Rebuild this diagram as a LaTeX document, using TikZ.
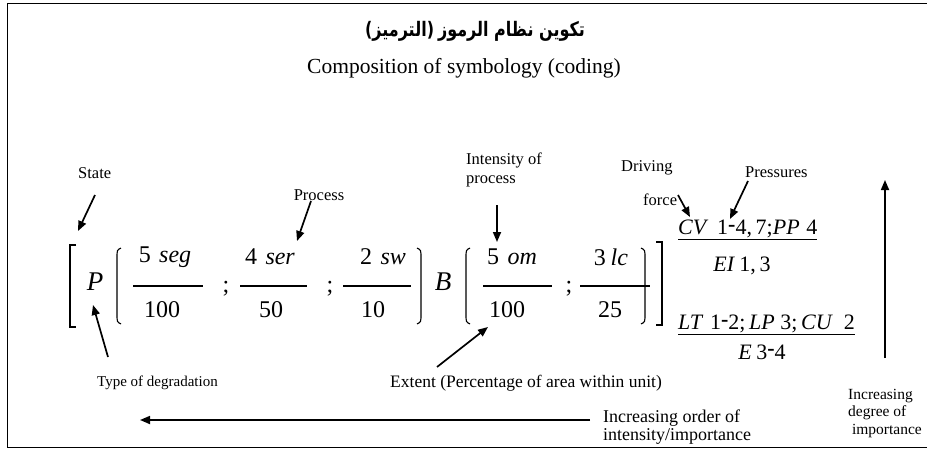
\documentclass[tikz,border=0pt]{standalone}
\usepackage{fontspec}
\setmainfont{Liberation Serif}
\newfontfamily\arabicfont[Script=Arabic]{DejaVu Sans}
\newfontfamily\plainsans{DejaVu Sans}
\TeXXeTstate=1
\usetikzlibrary{arrows.meta}
\newcommand{\mydash}{\raisebox{0.32ex}{\textbf{-}}}
\begin{document}
\begin{tikzpicture}[x=1pt,y=-1pt,
  lbl/.style={font=\fontsize{16.5}{18.5}\selectfont, inner sep=0pt},
  mth/.style={font=\fontsize{24}{26}\selectfont, inner sep=0pt},
  cod/.style={font=\fontsize{22}{24}\selectfont, inner sep=0pt},
  arr/.style={line width=1.7pt, -{Triangle[length=10pt,width=8pt]}},
  brk/.style={line width=1.1pt},
  frac/.style={line width=1.1pt}]
\useasboundingbox (0,0) rectangle (927,450);
% frame
\draw[line width=1pt] (927,3) -- (7,3) -- (7,447) -- (927,447);
% titles
\node[font=\bfseries\fontsize{20}{22}\selectfont, inner sep=0pt, xscale=0.8, transform shape] (ar) at (475,31) {{\plainsans(}{\arabicfont\beginR الترميز\endR}{\plainsans)} {\arabicfont\beginR تكوين نظام الرموز\endR}};
\node[font=\fontsize{21.5}{24}\selectfont, inner sep=0pt] (sub) at (464,68) {Composition of symbology (coding)};
% state
\node[lbl,anchor=west] (state) at (78,173) {State};
\coordinate (s1) at (95,195); \coordinate (s2) at (78,231);
\draw[arr] (s1) -- (s2);
% left bracket
\draw[brk] (76,245) -- (70,245) -- (70,327) -- (76,327);
\node[mth,font=\fontsize{27}{29}\selectfont\itshape] (P) at (95,282) {P};
\draw[brk] (121,248) .. controls (117,250) .. (117,258) -- (117,314) .. controls (117,322) .. (121,324);
% fraction 1
\node[mth] (n1) at (165,257) {5\hspace{0.35em}\textit{seg}};
\node[mth] (d1) at (162,310) {100};
\draw[frac] (133,286) -- (203,286);
\node[mth] (sc1) at (226,289) {;};
% fraction 2
\node[mth] (n2) at (270,257) {4\hspace{0.35em}\textit{ser}};
\node[mth] (d2) at (271,310) {50};
\draw[frac] (240,286) -- (307,286);
\node[mth] (sc2) at (330,289) {;};
% fraction 3
\node[mth] (n3) at (383,257) {2\hspace{0.35em}\textit{sw}};
\node[mth] (d3) at (373,310) {10};
\draw[frac] (343,286) -- (411,286);
\draw[brk] (417,248) .. controls (421,250) .. (421,258) -- (421,314) .. controls (421,322) .. (417,324);
% B
\node[mth,font=\fontsize{27}{29}\selectfont\itshape] (B) at (443,282) {B};
\draw[brk] (470,248) .. controls (466,250) .. (466,258) -- (466,314) .. controls (466,322) .. (470,324);
% fraction 4
\node[mth] (n4) at (512,257) {5\hspace{0.35em}\textit{om}};
\node[mth] (d4) at (507,310) {100};
\draw[frac] (483,286) -- (552,286);
\node[mth] (sc3) at (569,289) {;};
% fraction 5
\node[mth] (n5) at (611,257) {3\hspace{0.2em}\textit{lc}};
\node[mth] (d5) at (610,310) {25};
\draw[frac] (580,286) -- (650,286);
\draw[brk] (641,248) .. controls (645,250) .. (645,258) -- (645,314) .. controls (645,322) .. (641,324);
% right bracket
\draw[brk] (656,242) -- (662,242) -- (662,325) -- (656,325);
% process
\node[lbl] (proc) at (319,195) {Process};
\coordinate (p1) at (311,201); \coordinate (p2) at (297,241);
\draw[arr] (p1) -- (p2);
% intensity
\node[lbl,anchor=north west,align=left] (int) at (466,153) {Intensity of\\process};
\coordinate (i1) at (497,205); \coordinate (i2) at (497,242);
\draw[arr] (i1) -- (i2);
% driving force
\node[lbl,anchor=west] (drv) at (621,168) {Driving};
\node[lbl,anchor=west] (frc) at (643,200) {force};
\coordinate (f1) at (678,195); \coordinate (f2) at (690,217);
\draw[arr] (f1) -- (f2);
% pressures
\node[lbl,anchor=west] (prs) at (745,172) {Pressures};
\coordinate (q1) at (748,181); \coordinate (q2) at (730,219);
\draw[arr] (q1) -- (q2);
% codes
\node[cod,anchor=west] (cv) at (678,230) {\underline{\textit{CV}\hspace{0.4em}1\mydash4,\,7;\textit{PP}\hspace{0.3em}4}};
\node[cod] (ei) at (742,266) {\textit{EI}\hspace{0.2em}1,\,3};
\node[cod,anchor=west] (lt) at (678,325) {\underline{\textit{LT}\hspace{0.3em}1\mydash2;\,\textit{LP}\hspace{0.25em}3;\,\textit{CU}\hspace{0.5em}2}};
\node[cod] (e) at (762,352) {\textit{E}\hspace{0.2em}3\mydash4};
% up arrow
\coordinate (u1) at (885,358); \coordinate (u2) at (885,180);
\draw[arr] (u1) -- (u2);
\node[lbl,font=\fontsize{15.5}{17.5}\selectfont,anchor=north west,align=left] (deg) at (848,389) {Increasing\\degree of\\\ importance};
% type of degradation
\node[lbl,font=\fontsize{15}{17}\selectfont,anchor=west] (type) at (97,383) {Type of degradation};
\coordinate (t1) at (108,357); \coordinate (t2) at (93,305);
\draw[arr] (t1) -- (t2);
% extent
\node[lbl,font=\fontsize{17.5}{19}\selectfont,anchor=west] (ext) at (390,383) {Extent (Percentage of area within unit)};
\coordinate (e1) at (437,367); \coordinate (e2) at (488,327);
\draw[arr] (e1) -- (e2);
% horizontal arrow
\coordinate (h1) at (590,420); \coordinate (h2) at (140,420);
\draw[arr] (h1) -- (h2);
\node[lbl,font=\fontsize{18}{18}\selectfont,anchor=north west,align=left] (ord) at (603,410) {Increasing order of\\intensity/importance};
\end{tikzpicture}
\end{document}
